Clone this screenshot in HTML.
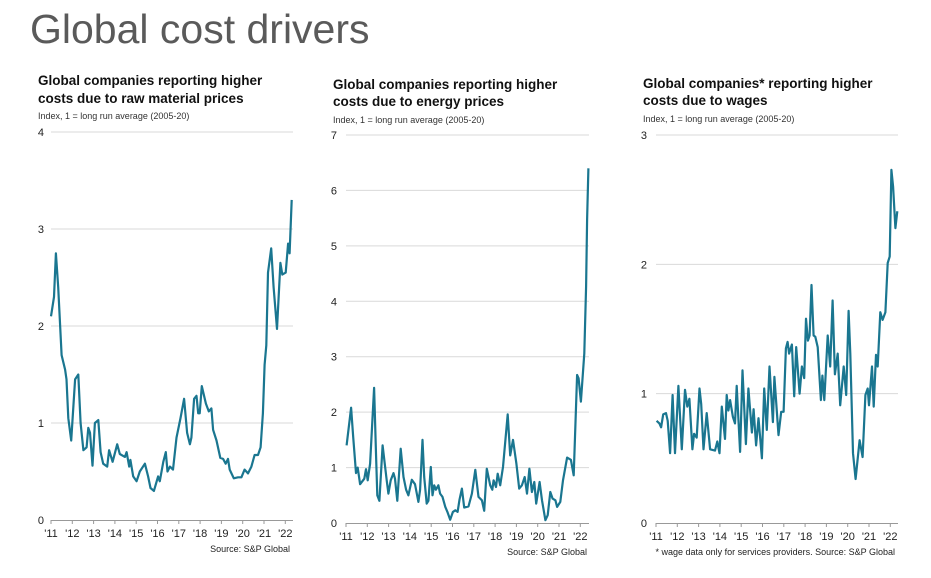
<!DOCTYPE html>
<html><head><meta charset="utf-8"><style>
html,body{margin:0;padding:0;background:#fff;}
svg{display:block;font-family:"Liberation Sans",sans-serif;}
</style></head><body>
<svg id="c" width="931" height="578">
<text x="30" y="43" font-size="41" fill="#5a5a5a">Global cost drivers</text>
</svg>
<script>
const yearLabels=["'11","'12","'13","'14","'15","'16","'17","'18","'19","'20","'21","'22"];
const rawT=[0,0.14,0.23,0.34,0.5,0.66,0.73,0.81,0.95,1.13,1.28,1.39,1.52,1.67,1.75,1.83,1.95,2.06,2.22,2.33,2.45,2.64,2.73,2.89,3.11,3.23,3.47,3.55,3.67,3.73,3.86,4.02,4.17,4.41,4.56,4.67,4.83,5.03,5.11,5.27,5.39,5.47,5.58,5.73,5.89,6.08,6.25,6.39,6.52,6.59,6.72,6.83,6.91,6.98,7.08,7.27,7.41,7.53,7.61,7.77,7.95,8.08,8.2,8.31,8.39,8.58,8.78,8.94,9.09,9.25,9.41,9.56,9.72,9.84,9.95,10.03,10.11,10.19,10.34,10.45,10.61,10.77,10.86,11.02,11.13,11.2,11.3];
const rawV=[2.1,2.3,2.75,2.4,1.7,1.55,1.45,1.05,0.82,1.45,1.5,1.0,0.72,0.75,0.95,0.9,0.56,1.0,1.03,0.7,0.58,0.55,0.72,0.6,0.78,0.68,0.65,0.7,0.55,0.62,0.45,0.4,0.5,0.58,0.45,0.33,0.3,0.45,0.4,0.6,0.7,0.5,0.55,0.52,0.85,1.05,1.25,0.9,0.78,0.85,1.25,1.28,1.1,1.1,1.38,1.2,1.12,1.15,0.93,0.82,0.64,0.63,0.58,0.63,0.52,0.43,0.44,0.44,0.52,0.48,0.55,0.67,0.67,0.75,1.1,1.6,1.8,2.55,2.8,2.4,1.97,2.65,2.53,2.55,2.85,2.75,3.3];
const enT=[0.03,0.24,0.34,0.47,0.55,0.66,0.86,0.94,1.02,1.13,1.32,1.41,1.47,1.57,1.72,1.91,1.99,2.1,2.23,2.3,2.41,2.57,2.7,2.82,2.93,3.09,3.24,3.4,3.48,3.59,3.67,3.79,3.87,3.98,4.06,4.14,4.22,4.34,4.42,4.53,4.66,4.76,4.89,5.02,5.13,5.24,5.33,5.44,5.55,5.75,5.91,6.07,6.22,6.38,6.49,6.61,6.77,6.87,6.93,7.04,7.12,7.24,7.37,7.59,7.71,7.84,8.0,8.13,8.26,8.39,8.5,8.61,8.73,8.84,8.93,9.09,9.2,9.36,9.47,9.59,9.7,9.83,9.91,10.06,10.19,10.38,10.56,10.69,10.85,10.92,11.03,11.19,11.27,11.32,11.38];
const enV=[1.4,2.08,1.55,0.9,1.0,0.7,0.8,0.97,0.77,1.07,2.44,1.25,0.5,0.4,1.4,0.77,0.53,0.77,0.9,0.8,0.4,1.34,0.83,0.6,0.5,0.78,0.7,0.38,0.6,1.5,0.83,0.35,0.4,1.01,0.5,0.68,0.6,0.68,0.53,0.47,0.29,0.2,0.06,0.2,0.23,0.2,0.42,0.62,0.28,0.3,0.53,0.96,0.47,0.41,0.22,0.98,0.68,0.6,0.77,0.65,0.89,0.68,1.01,1.96,1.22,1.5,1.07,0.62,0.68,0.83,0.53,0.98,0.56,0.74,0.35,0.74,0.41,0.05,0.14,0.56,0.44,0.41,0.29,0.38,0.77,1.18,1.14,0.86,2.67,2.61,2.19,3.06,4.27,5.47,6.4];
const wgT=[0.03,0.16,0.24,0.34,0.47,0.55,0.66,0.78,0.89,1.05,1.21,1.36,1.47,1.57,1.71,1.79,1.91,2.04,2.12,2.23,2.38,2.54,2.77,2.88,2.98,3.09,3.24,3.32,3.4,3.48,3.61,3.71,3.79,3.95,4.06,4.22,4.34,4.5,4.58,4.7,4.81,4.97,5.08,5.2,5.33,5.49,5.56,5.75,5.88,5.99,6.1,6.18,6.25,6.38,6.49,6.58,6.74,6.85,6.96,7.04,7.13,7.21,7.3,7.4,7.48,7.59,7.74,7.81,7.9,8.06,8.18,8.29,8.4,8.53,8.65,8.81,8.93,9.04,9.12,9.25,9.37,9.56,9.7,9.83,9.94,10.0,10.14,10.22,10.33,10.41,10.53,10.64,10.77,10.88,10.97,11.05,11.13,11.24,11.33];
const wgV=[0.79,0.77,0.74,0.84,0.85,0.79,0.54,0.99,0.54,1.06,0.57,1.03,0.9,0.96,0.57,0.69,0.66,1.04,0.92,0.57,0.85,0.57,0.56,0.63,0.54,0.9,0.65,0.99,0.87,0.95,0.82,0.77,1.06,0.55,1.18,0.61,1.04,0.7,0.88,0.6,0.81,0.5,1.04,0.72,1.21,0.78,1.13,0.68,0.86,0.86,1.35,1.4,1.31,1.38,0.98,1.36,1.0,1.21,1.12,1.58,1.41,1.45,1.84,1.45,1.44,1.36,0.95,1.14,0.95,1.45,1.21,1.72,1.15,1.31,0.91,1.21,0.99,1.64,1.31,0.54,0.34,0.64,0.51,0.99,1.04,0.91,1.21,0.9,1.3,1.21,1.63,1.57,1.63,2.01,2.06,2.73,2.6,2.28,2.41];
const rawTicks=[0,1,2,3,4],enTicks=[0,1,2,3,4,5,6,7],wgTicks=[0,1,2,3];

const svg=document.getElementById('c');
const NS='http://www.w3.org/2000/svg';
function mk(tag,attrs,parent){const e=document.createElementNS(NS,tag);for(const k in attrs)e.setAttribute(k,attrs[k]);(parent||svg).appendChild(e);return e;}

const panels=[
 {id:'raw',x0:51,xr:293,yTop:132,yBot:520,max:4,ticks:rawTicks,t:rawT,v:rawV,lblX:44,anchor:'end',
  title:['Global companies reporting higher','costs due to raw material prices'],tx:38,ty:[85,103],sy:119,src:'Source: S&P Global',srcX:290},
 {id:'energy',x0:346,xr:589,yTop:135,yBot:523,max:7,ticks:enTicks,t:enT,v:enV,lblX:337,anchor:'end',
  title:['Global companies reporting higher','costs due to energy prices'],tx:333,ty:[89,106],sy:123,src:'Source: S&P Global',srcX:587},
 {id:'wages',x0:656,xr:898,yTop:135,yBot:523,max:3,ticks:wgTicks,t:wgT,v:wgV,lblX:647,anchor:'end',
  title:['Global companies* reporting higher','costs due to wages'],tx:643,ty:[88,105],sy:122,src:'* wage data only for services providers. Source: S&P Global',srcX:895}
];
const spacing=21.3;
panels.forEach(p=>{
 const g=mk('g',{});
 
 
 const xs=t=>p.x0+t*spacing;
 const ys=v=>p.yBot-v/p.max*(p.yBot-p.yTop);
 p.title.forEach((s,i)=>{const e=mk('text',{x:p.tx,y:p.ty[i],'font-size':13.5,'font-weight':'bold',fill:'#111'},g);e.textContent=s;
  });
 const sub=mk('text',{x:p.tx,y:p.sy,'font-size':9,fill:'#333'},g);sub.textContent='Index, 1 = long run average (2005-20)';
 
 p.ticks.forEach(v=>{
  if(v>0){const l=mk('line',{x1:p.x0,x2:p.xr,y1:ys(v),y2:ys(v),stroke:'#d9d9d9','stroke-width':1},g);
   }
  const t=mk('text',{x:p.lblX,y:ys(v)+4,'font-size':11,fill:'#222','text-anchor':p.anchor},g);t.textContent=v;
  
 });
 const ax=mk('line',{x1:p.x0,x2:p.xr,y1:p.yBot+0.5,y2:p.yBot+0.5,stroke:'#999','stroke-width':1},g);
 
 yearLabels.forEach((s,i)=>{
  const tk=mk('line',{x1:xs(i),x2:xs(i),y1:p.yBot,y2:p.yBot+4,stroke:'#999'},g);
  
  const t=mk('text',{x:xs(i),y:p.yBot+17,'font-size':11,fill:'#222','text-anchor':'middle'},g);t.textContent=s;
  
 });
 const d=p.t.map((t,i)=>(i?'L':'M')+xs(t).toFixed(1)+','+ys(p.v[i]).toFixed(1)).join('');
 const path=mk('path',{d:d,fill:'none',stroke:'#1a7690','stroke-width':2.2,'stroke-linejoin':'round'},g);
 
 const src=mk('text',{x:p.srcX,y:p.yBot+32,'font-size':9,fill:'#222','text-anchor':'end'},g);src.textContent=p.src;
 
});
</script>
</body></html>
